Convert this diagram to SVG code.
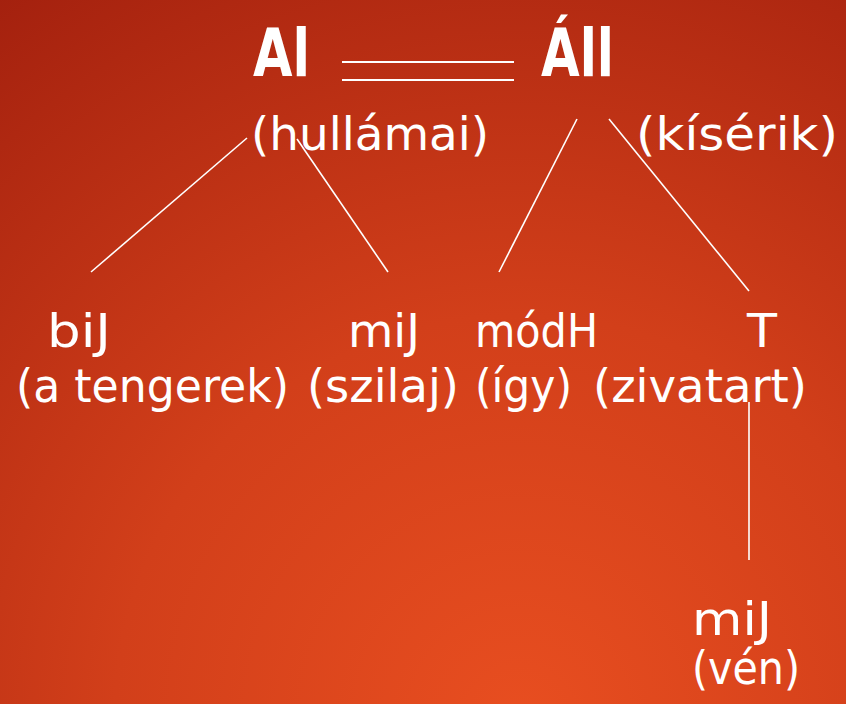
<svg xmlns="http://www.w3.org/2000/svg" width="846" height="704" viewBox="0 0 846 704">
<defs>
<radialGradient id="bg" cx="520" cy="720" r="900" gradientUnits="userSpaceOnUse">
<stop offset="0" stop-color="#e84e20"/>
<stop offset="0.45" stop-color="#d23f1a"/>
<stop offset="1" stop-color="#a3200e"/>
</radialGradient>
<style>
.t{font-family:"DejaVu Sans","Liberation Sans",sans-serif;fill:#fff;font-size:46px}
.b{font-weight:bold;font-size:66px}
.c line{stroke:#fff;stroke-width:1.6;fill:none}
</style>
</defs>
<rect width="846" height="704" fill="url(#bg)"/>
<g id="head">
<text class="t b" x="253" y="76" textLength="57" lengthAdjust="spacingAndGlyphs">Al</text>
<text class="t b" x="541" y="76" textLength="73" lengthAdjust="spacingAndGlyphs">Áll</text>
<line x1="342" y1="62" x2="514" y2="62" stroke="#fff" stroke-width="2.2"/>
<line x1="342" y1="80" x2="514" y2="80" stroke="#fff" stroke-width="2.2"/>
</g>
<g id="hullamai"><text class="t" x="251" y="150" textLength="238" lengthAdjust="spacingAndGlyphs">(hullámai)</text></g>
<g id="kiserik"><text class="t" x="636" y="150" textLength="202" lengthAdjust="spacingAndGlyphs">(kísérik)</text></g>
<g id="tengerek">
<text class="t" x="47" y="347" textLength="64" lengthAdjust="spacingAndGlyphs">biJ</text>
<text class="t" x="16" y="402" textLength="273" lengthAdjust="spacingAndGlyphs">(a tengerek)</text>
</g>
<g id="szilaj">
<text class="t" x="348" y="347" textLength="72" lengthAdjust="spacingAndGlyphs">miJ</text>
<text class="t" x="307" y="402" textLength="152" lengthAdjust="spacingAndGlyphs">(szilaj)</text>
</g>
<g id="igy">
<text class="t" x="475" y="347" textLength="123" lengthAdjust="spacingAndGlyphs">módH</text>
<text class="t" x="475" y="402" textLength="97" lengthAdjust="spacingAndGlyphs">(így)</text>
</g>
<g id="zivatart">
<text class="t" x="747" y="347" textLength="30" lengthAdjust="spacingAndGlyphs">T</text>
<text class="t" x="593" y="402" textLength="214" lengthAdjust="spacingAndGlyphs">(zivatart)</text>
</g>
<g id="ven">
<text class="t" x="692" y="635" textLength="80" lengthAdjust="spacingAndGlyphs">miJ</text>
<text class="t" x="692" y="684" textLength="108" lengthAdjust="spacingAndGlyphs">(vén)</text>
</g>
<g class="c" id="connectors">
<line x1="247" y1="138" x2="91" y2="272"/>
<line x1="297" y1="139" x2="388" y2="272"/>
<line x1="577" y1="119" x2="499" y2="272"/>
<line x1="609" y1="119" x2="749" y2="291"/>
<line x1="749" y1="402" x2="749" y2="560"/>
</g>
</svg>
